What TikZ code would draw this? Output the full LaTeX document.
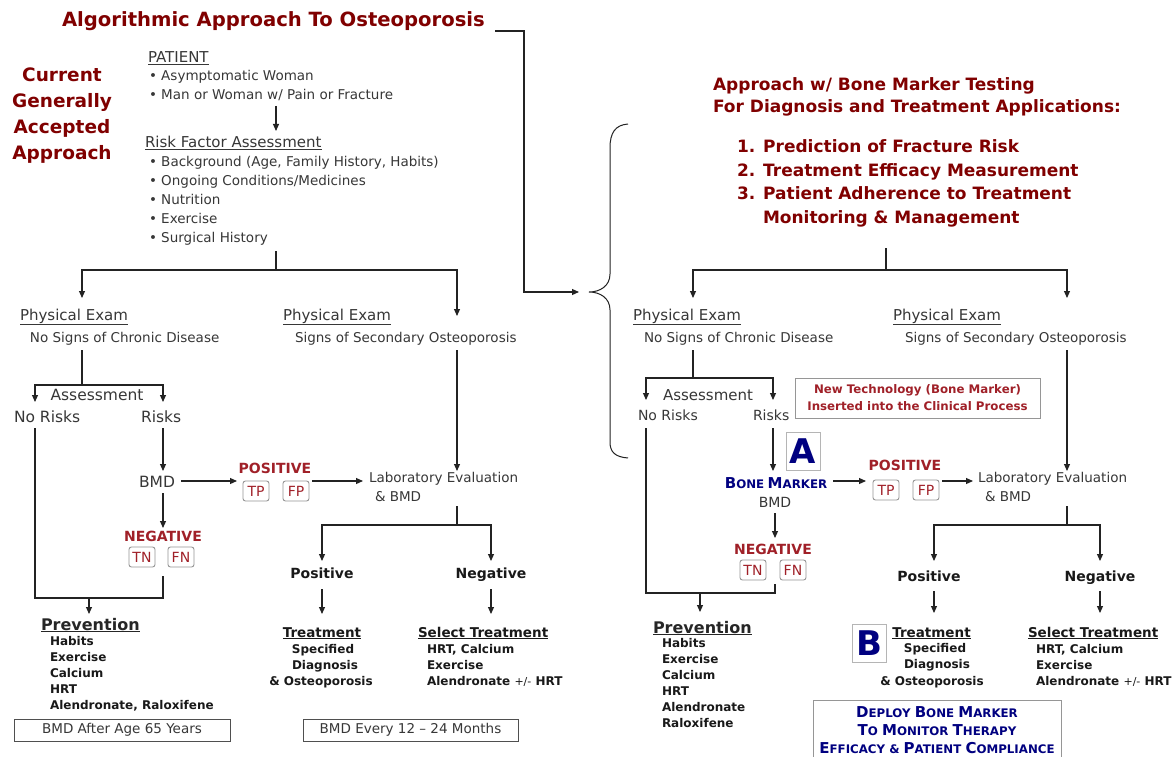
\documentclass[tikz,border=0pt]{standalone}
\usepackage{fontspec}
\setmainfont{DejaVu Sans}
\usetikzlibrary{arrows.meta}
\definecolor{titlered}{RGB}{128,0,0}
\definecolor{redc}{RGB}{160,32,40}
\definecolor{navyc}{RGB}{0,0,128}
\definecolor{txtg}{RGB}{55,55,55}
\definecolor{linec}{RGB}{35,35,35}
\definecolor{boxg}{RGB}{150,150,150}
\newcommand\myfs[1]{\fontsize{#1}{#1}\selectfont}
\newcommand\mysc[2]{{\fontsize{15}{18}\selectfont #1}{\fontsize{11.8}{18}\selectfont #2}}
\begin{document}
\begin{tikzpicture}[x=1pt,y=-1pt,
  every node/.style={inner sep=0pt,outer sep=0pt},
  body/.style={font=\myfs{13.5}, text=txtg, anchor=base west},
  head/.style={font=\myfs{15}, text=txtg, anchor=base west},
  bsm/.style={font=\bfseries\myfs{12}, text=black!90, anchor=base west},
  bsmc/.style={font=\bfseries\myfs{12}, text=black!90, anchor=base},
  bmd/.style={font=\bfseries\myfs{13.5}, text=black!90, anchor=base},
  pn/.style={font=\bfseries\myfs{14}, text=black!90, anchor=base},
  rcap/.style={font=\bfseries\myfs{14}, text=redc, anchor=base},
  hdr/.style={font=\bfseries\myfs{17}, text=titlered, anchor=base west},
  tf/.style={draw=boxg, line width=0.9pt, rounded corners=2.5pt, minimum width=26pt, minimum height=20pt, font=\myfs{14}, text=redc},
  ln/.style={draw=linec, line width=1.1pt},
  arr/.style={ln, -{Triangle[length=7pt,width=6pt]}},
  bigl/.style={draw=boxg!70, line width=0.8pt, font=\bfseries\myfs{34}, text=navyc, minimum width=34pt, minimum height=38pt},
  bmdbox/.style={draw=linec!80, line width=0.9pt, minimum width=216pt, minimum height=22pt, font=\myfs{13.5}, text=txtg},
]
\useasboundingbox (0,0) rectangle (1176,757);
\fill[white] (0,0) rectangle (1176,757);

% ---------------- LEFT: current approach ----------------
\node[font=\bfseries\myfs{19.6}, text=titlered, anchor=base west] (title) at (62,27) {Algorithmic Approach To Osteoporosis};
\coordinate (t1) at (495,31); \coordinate (t2) at (524,31); \coordinate (t3) at (524,292); \coordinate (brin) at (579,292);
\draw[arr] (t1) -- (t2) -- (t3) -- (brin);

\foreach \w [count=\i] in {Current,Generally,Accepted,Approach}
  \node[font=\bfseries\myfs{18.5}, text=titlered, anchor=base] (cur\i) at (62,{56+26*\i}) {\w};

\node[head] (patient) at (148,63) {\underline{PATIENT}};
\node[body] (p1) at (149,81) {• Asymptomatic Woman};
\node[body] (p2) at (149,100) {• Man or Woman w/ Pain or Fracture};
\coordinate (a1s) at (276,106); \coordinate (a1e) at (276,131);
\draw[arr] (a1s) -- (a1e);
\node[head] (rfa) at (145,148) {\underline{Risk Factor Assessment}};
\foreach \t [count=\i] in {{Background (Age, Family History, Habits)},{Ongoing Conditions/Medicines},Nutrition,Exercise,{Surgical History}}
  \node[body] (rf\i) at (149,{148.25+18.75*\i}) {• \t};

\coordinate (s1) at (276,251); \coordinate (s2) at (276,270);
\coordinate (s3) at (82,270); \coordinate (s4) at (82,298);
\coordinate (s5) at (457,270); \coordinate (s6) at (457,316);
\draw[ln] (s1) -- (s2);
\draw[arr] (s2) -- (s3) -- (s4);
\draw[arr] (s2) -- (s5) -- (s6);

\node[head] (pe1) at (20,320) {\underline{Physical Exam}};
\node[body] (pe1b) at (30,342) {No Signs of Chronic Disease};
\node[head] (pe2) at (283,320) {\underline{Physical Exam}};
\node[body] (pe2b) at (295,342) {Signs of Secondary Osteoporosis};

\coordinate (u1) at (82,350); \coordinate (u2) at (82,385);
\coordinate (u3) at (35,385); \coordinate (u4) at (35,402);
\coordinate (u5) at (163,385); \coordinate (u6) at (163,402);
\draw[ln] (u1) -- (u2);
\draw[arr] (u2) -- (u3) -- (u4);
\draw[arr] (u2) -- (u5) -- (u6);

\node[font=\myfs{15.5}, text=txtg, anchor=base] (ass1) at (97,400) {Assessment};
\node[font=\myfs{15.5}, text=txtg, anchor=base west] (nr1) at (14,422) {No Risks};
\node[font=\myfs{15.5}, text=txtg, anchor=base west] (r1) at (141,422) {Risks};

\coordinate (rk1) at (163,428); \coordinate (rk2) at (163,471);
\draw[arr] (rk1) -- (rk2);
\node[font=\myfs{15.5}, text=txtg, anchor=base] (bmd1) at (157,487) {BMD};
\coordinate (b1) at (181,481); \coordinate (b2) at (237,481);
\draw[arr] (b1) -- (b2);
\node[rcap] (pos1) at (275,473) {POSITIVE};
\node[tf] (tp1) at (256,491) {TP};
\node[tf] (fp1) at (296,491) {FP};
\coordinate (f1) at (312,481); \coordinate (f2) at (363,481);
\draw[arr] (f1) -- (f2);
\node[body] (lab1) at (369,482) {Laboratory Evaluation};
\node[body] (lab1b) at (375,501) {\& BMD};

\coordinate (v1) at (457,350); \coordinate (v2) at (457,471);
\draw[arr] (v1) -- (v2);

\coordinate (n1) at (163,493); \coordinate (n2) at (163,528);
\draw[arr] (n1) -- (n2);
\node[rcap] (neg1) at (163,541) {NEGATIVE};
\node[tf] (tn1) at (142,557) {TN};
\node[tf] (fn1) at (181,557) {FN};

\coordinate (w1) at (35,428); \coordinate (w2) at (35,598);
\coordinate (w3) at (163,598); \coordinate (w4) at (163,576);
\draw[ln] (w1) -- (w2) -- (w3) -- (w4);
\coordinate (pv1) at (89,598); \coordinate (pv2) at (89,614);
\draw[arr] (pv1) -- (pv2);

\coordinate (l1) at (457,506); \coordinate (l2) at (457,525);
\coordinate (l3) at (322,525); \coordinate (l4) at (322,561);
\coordinate (l5) at (491,525); \coordinate (l6) at (491,561);
\draw[ln] (l1) -- (l2);
\draw[arr] (l2) -- (l3) -- (l4);
\draw[arr] (l2) -- (l5) -- (l6);
\node[pn] (posl) at (322,578) {Positive};
\node[pn] (negl) at (491,578) {Negative};
\coordinate (q1) at (322,589); \coordinate (q2) at (322,614);
\coordinate (q3) at (491,589); \coordinate (q4) at (491,614);
\draw[arr] (q1) -- (q2);
\draw[arr] (q3) -- (q4);

\node[font=\bfseries\myfs{16}, text=black!85, anchor=base west] (prev1) at (41,630) {\underline{Prevention}};
\foreach \t [count=\i] in {Habits,Exercise,Calcium,HRT,{Alendronate, Raloxifene}}
  \node[bsm] (pr\i) at (50,{629.5+16*\i}) {\t};

\node[bmd] (trt1) at (322,637) {\underline{Treatment}};
\node[bsmc] (trt1a) at (323,653) {Specified};
\node[bsmc] (trt1b) at (325,669) {Diagnosis};
\node[bsmc] (trt1c) at (321,685.5) {\& Osteoporosis};
\node[font=\bfseries\myfs{13.5}, text=black!90, anchor=base west] (sel1) at (418,637) {\underline{Select Treatment}};
\foreach \t [count=\i] in {{HRT, Calcium},Exercise,{Alendronate {\normalfont\myfs{11}+/-} HRT}}
  \node[bsm] (sl\i) at (427,{637.5+16*\i}) {\t};

\node[bmdbox] (bx1) at (122,730) {BMD After Age 65 Years};
\node[bmdbox, minimum width=215pt] (bx2) at (410.5,730) {BMD Every 12 -- 24 Months};

% ---------------- brace ----------------
\coordinate (brtip) at (589,292);
\draw[draw=linec, line width=1pt] (628,124) .. controls (615,125) and (610,133) .. (610,148) -- (610,274)
  .. controls (610,286) and (600,292) .. (brtip)
  .. controls (600,292) and (610,298) .. (610,310) -- (610,442)
  .. controls (610,452) and (615,457) .. (628,458);

% ---------------- RIGHT: bone marker approach ----------------
\node[hdr] (h1) at (713,91) {Approach w/ Bone Marker Testing};
\node[hdr] (h2) at (713,113) {For Diagnosis and Treatment Applications:};
\node[hdr] (h3) at (737,153) {1. Prediction of Fracture Risk};
\node[hdr] (h4) at (737,176) {2. Treatment Efficacy Measurement};
\node[hdr] (h5) at (737,200) {3. Patient Adherence to Treatment};
\node[hdr] (h6) at (763,223) {Monitoring \& Management};

\coordinate (S1) at (886,248); \coordinate (S2) at (886,270);
\coordinate (S3) at (693,270); \coordinate (S4) at (693,298);
\coordinate (S5) at (1067,270); \coordinate (S6) at (1067,298);
\draw[ln] (S1) -- (S2);
\draw[arr] (S2) -- (S3) -- (S4);
\draw[arr] (S2) -- (S5) -- (S6);

\node[head] (pe3) at (633,320) {\underline{Physical Exam}};
\node[body] (pe3b) at (644,342) {No Signs of Chronic Disease};
\node[head] (pe4) at (893,320) {\underline{Physical Exam}};
\node[body] (pe4b) at (905,342) {Signs of Secondary Osteoporosis};

\coordinate (U1) at (693,350); \coordinate (U2) at (693,378);
\coordinate (U3) at (646,378); \coordinate (U4) at (646,400);
\coordinate (U5) at (773,378); \coordinate (U6) at (773,400);
\draw[ln] (U1) -- (U2);
\draw[arr] (U2) -- (U3) -- (U4);
\draw[arr] (U2) -- (U5) -- (U6);

\node[font=\myfs{15}, text=txtg, anchor=base] (ass2) at (708,400) {Assessment};
\node[font=\myfs{14}, text=txtg, anchor=base west] (nr2) at (638,420.5) {No Risks};
\node[font=\myfs{14}, text=txtg, anchor=base west] (r2) at (753,420.5) {Risks};

\node[draw=boxg, line width=0.9pt, minimum width=245pt, minimum height=40pt, align=center,
  font=\bfseries\fontsize{11.8}{17}\selectfont, text=redc] (nt) at (917.5,398)
  {New Technology (Bone Marker)\\Inserted into the Clinical Process};

\coordinate (RK1) at (773,428); \coordinate (RK2) at (773,471);
\draw[arr] (RK1) -- (RK2);
\node[bigl] (boxA) at (803,451) {A};
\node[font=\bfseries, text=navyc, anchor=base] (bm) at (776,488) {\mysc{B}{ONE} \mysc{M}{ARKER}};
\node[font=\myfs{14}, text=txtg, anchor=base] (bmd2) at (775,507) {BMD};
\coordinate (B1) at (833,481); \coordinate (B2) at (866,481);
\draw[arr] (B1) -- (B2);
\node[rcap] (pos2) at (905,470) {POSITIVE};
\node[tf] (tp2) at (886,490) {TP};
\node[tf] (fp2) at (926,490) {FP};
\coordinate (F1) at (942,481); \coordinate (F2) at (973,481);
\draw[arr] (F1) -- (F2);
\node[body] (lab2) at (978,482) {Laboratory Evaluation};
\node[body] (lab2b) at (985,501) {\& BMD};

\coordinate (V1) at (1067,350); \coordinate (V2) at (1067,471);
\draw[arr] (V1) -- (V2);

\coordinate (N1) at (775,513); \coordinate (N2) at (775,538);
\draw[arr] (N1) -- (N2);
\node[rcap] (neg2) at (773,554) {NEGATIVE};
\node[tf] (tn2) at (753,570) {TN};
\node[tf] (fn2) at (793,570) {FN};

\coordinate (W1) at (646,428); \coordinate (W2) at (646,593);
\coordinate (W3) at (775,593); \coordinate (W4) at (775,584);
\draw[ln] (W1) -- (W2) -- (W3) -- (W4);
\coordinate (PV1) at (700,593); \coordinate (PV2) at (700,612);
\draw[arr] (PV1) -- (PV2);

\coordinate (L1) at (1067,506); \coordinate (L2) at (1067,525);
\coordinate (L3) at (934,525); \coordinate (L4) at (934,561);
\coordinate (L5) at (1100,525); \coordinate (L6) at (1100,561);
\draw[ln] (L1) -- (L2);
\draw[arr] (L2) -- (L3) -- (L4);
\draw[arr] (L2) -- (L5) -- (L6);
\node[pn] (posr) at (929,581) {Positive};
\node[pn] (negr) at (1100,581) {Negative};
\coordinate (Q1) at (934,591); \coordinate (Q2) at (934,613);
\coordinate (Q3) at (1100,591); \coordinate (Q4) at (1100,613);
\draw[arr] (Q1) -- (Q2);
\draw[arr] (Q3) -- (Q4);

\node[font=\bfseries\myfs{16}, text=black!85, anchor=base west] (prev2) at (653,633) {\underline{Prevention}};
\foreach \t [count=\i] in {Habits,Exercise,Calcium,HRT,Alendronate,Raloxifene}
  \node[bsm] (qr\i) at (662,{631.5+16*\i}) {\t};

\node[bigl] (boxB) at (869.5,643.5) {B};
\node[bmd] (trt2) at (931.5,637) {\underline{Treatment}};
\node[bsmc] (trt2a) at (935,652.5) {Specified};
\node[bsmc] (trt2b) at (937,668.5) {Diagnosis};
\node[bsmc] (trt2c) at (932,685.5) {\& Osteoporosis};
\node[font=\bfseries\myfs{13.5}, text=black!90, anchor=base west] (sel2) at (1028,637) {\underline{Select Treatment}};
\foreach \t [count=\i] in {{HRT, Calcium},Exercise,{Alendronate {\normalfont\myfs{11}+/-} HRT}}
  \node[bsm] (sr\i) at (1036,{637.5+16*\i}) {\t};

\node[draw=boxg, line width=0.9pt, minimum width=248pt, minimum height=60pt, align=center,
  font=\bfseries\fontsize{12}{18}\selectfont, text=navyc] (deploy) at (937,730)
  {\mysc{D}{EPLOY} \mysc{B}{ONE} \mysc{M}{ARKER}\\
   \mysc{T}{O} \mysc{M}{ONITOR} \mysc{T}{HERAPY}\\
   \mysc{E}{FFICACY \&} \mysc{P}{ATIENT} \mysc{C}{OMPLIANCE}};
\end{tikzpicture}
\end{document}
